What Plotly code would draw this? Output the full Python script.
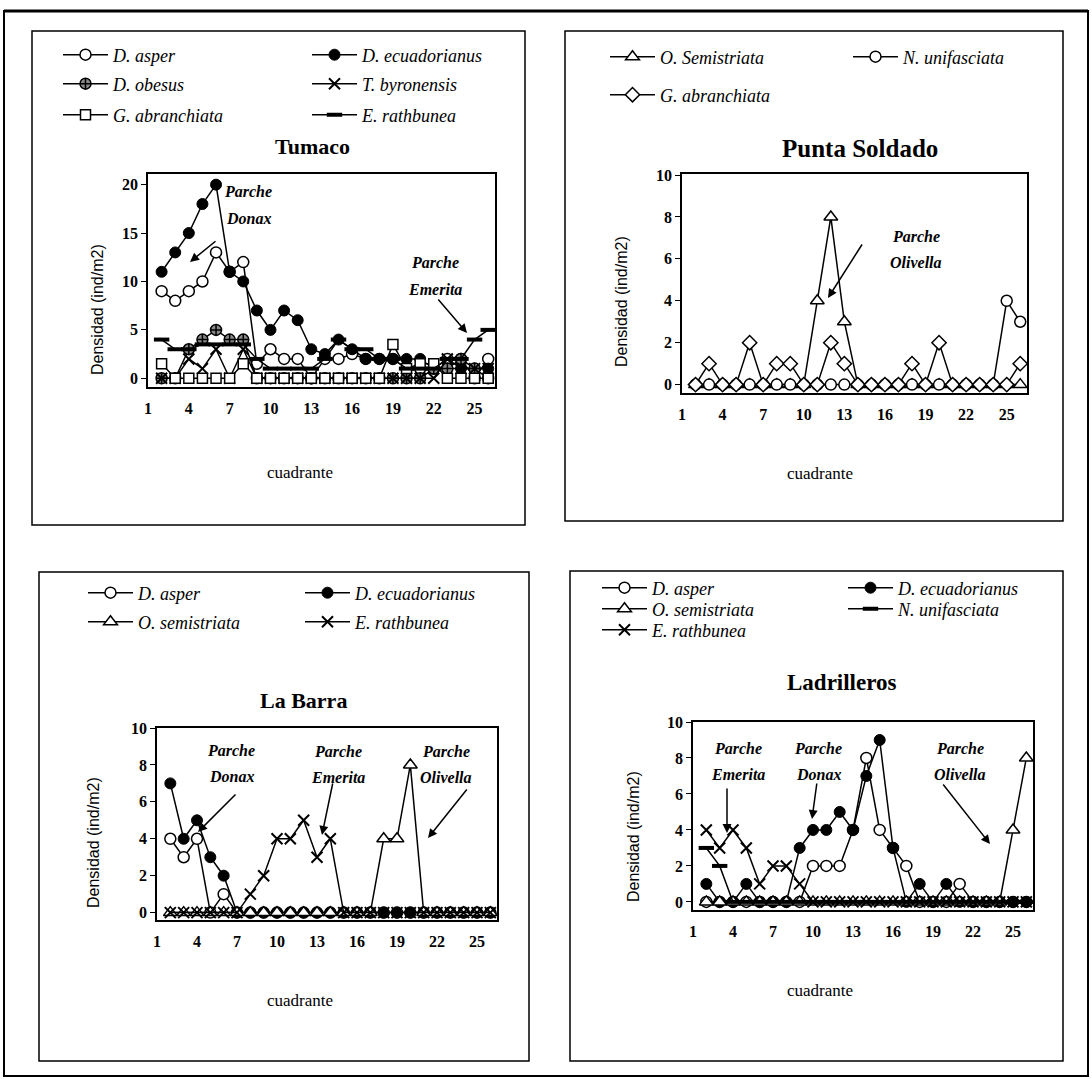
import plotly.graph_objects as go

W, H = 1092, 1079

# ---------------- data (cuadrante 2..26) ----------------
cuadrante = list(range(2, 27))
x_ticks = [1, 4, 7, 10, 13, 16, 19, 22, 25]

# Tumaco
tum_d_asper = [9, 8, 9, 10, 13, 11, 12, 1.5, 3, 2, 2, 0, 2, 2, 2.5, 2, 2, 2, 1, 1, 1, 2, 2, 0, 2]
tum_d_ecuad = [11, 13, 15, 18, 20, 11, 10, 7, 5, 7, 6, 3, 2.5, 4, 3, 2, 2, 2, 2, 2, 1, 1, 1, 1, 1]
tum_d_obesus = [0, 0, 3, 4, 5, 4, 4, 0, 0, 0, 0, 0, 0, 0, 0, 0, 0, 0, 0, 0, 1, 1, 2, 1, 0]
tum_t_byron = [0, 0, 2, 1, 3, 0, 3, 0, 0, 0, 0, 0, 0, 0, 0, 0, 0, 0, 0, 0, 0, 2, 1, 1, 1]
tum_g_abran = [1.5, 0, 0, 0, 0, 0, 1.5, 0, 0, 0, 0, 0, 0, 0, 0, 0, 0, 3.5, 1, 1.5, 1.5, 0, 0, 0, 0]
tum_e_rathb = [4, 3, 3, 3.5, 3.5, 3.5, 3.5, 2, 1, 1, 1, 1, 2, 4, 3, 3, 2, 2, 1, 1, 1, 2, 2, 4, 5]

# Punta Soldado
pso_o_semis = [0, 0, 0, 0, 0, 0, 0, 0, 0, 4, 8, 3, 0, 0, 0, 0, 0, 0, 0, 0, 0, 0, 0, 0, 0]
pso_n_unifa = [0, 0, 0, 0, 0, 0, 0, 0, 0, 0, 0, 0, 0, 0, 0, 0, 0, 0, 0, 0, 0, 0, 0, 4, 3]
pso_g_abran = [0, 1, 0, 0, 2, 0, 1, 1, 0, 0, 2, 1, 0, 0, 0, 0, 1, 0, 2, 0, 0, 0, 0, 0, 1]

# La Barra
lba_d_asper = [4, 3, 4, 0, 1, 0, 0, 0, 0, 0, 0, 0, 0, 0, 0, 0, 0, 0, 0, 0, 0, 0, 0, 0, 0]
lba_d_ecuad = [7, 4, 5, 3, 2, 0, 0, 0, 0, 0, 0, 0, 0, 0, 0, 0, 0, 0, 0, 0, 0, 0, 0, 0, 0]
lba_o_semis = [0, 0, 0, 0, 0, 0, 0, 0, 0, 0, 0, 0, 0, 0, 0, 0, 4, 4, 8, 0, 0, 0, 0, 0, 0]
lba_e_rathb = [0, 0, 0, 0, 0, 0, 1, 2, 4, 4, 5, 3, 4, 0, 0, 0, 0, 0, 0, 0, 0, 0, 0, 0, 0]

# Ladrilleros
lad_d_asper = [0, 0, 0, 0, 0, 0, 0, 0, 2, 2, 2, 4, 8, 4, 3, 2, 0, 0, 0, 1, 0, 0, 0, 0, 0]
lad_d_ecuad = [1, 0, 0, 1, 0, 0, 0, 3, 4, 4, 5, 4, 7, 9, 3, 0, 1, 0, 1, 0, 0, 0, 0, 0, 0]
lad_o_semis = [0, 0, 0, 0, 0, 0, 0, 0, 0, 0, 0, 0, 0, 0, 0, 0, 0, 0, 0, 0, 0, 0, 0, 4, 8]
lad_n_unifa = [3, 2, 0, 0, 0, 0, 0, 0, 0, 0, 0, 0, 0, 0, 0, 0, 0, 0, 0, 0, 0, 0, 0, 0, 0]
lad_e_rathb = [4, 3, 4, 3, 1, 2, 2, 1, 0, 0, 0, 0, 0, 0, 0, 0, 0, 0, 0, 0, 0, 0, 0, 0, 0]

# ---------------- styles ----------------
BLK = "black"
SERIF = "Liberation Serif"
SANS = "Liberation Sans"

M = {
    "ocirc": dict(symbol="circle", size=11, color="white", line=dict(color=BLK, width=1.5)),
    "fcirc": dict(symbol="circle", size=11, color=BLK, line=dict(color=BLK, width=1)),
    "obes": dict(symbol="circle-cross", size=11, color="#888888", line=dict(color=BLK, width=1.5)),
    "x": dict(symbol="x-thin-open", size=11, color=BLK, line=dict(color=BLK, width=2)),
    "osq": dict(symbol="square", size=10, color="white", line=dict(color=BLK, width=1.5)),
    "dash": dict(symbol="line-ew-open", size=11, color=BLK, line=dict(color=BLK, width=4)),
    "otri": dict(symbol="triangle-up", size=12, color="white", line=dict(color=BLK, width=1.5)),
    "odia": dict(symbol="diamond", size=11, color="white", line=dict(color=BLK, width=1.5)),
}

def px(x):
    return x / W

def py(y):
    return 1 - y / H

def note(text, x, y, font, **kw):
    d = dict(text=text, x=px(x), y=py(y), xref="paper", yref="paper", showarrow=False,
             xanchor="center", yanchor="middle", font=font)
    d.update(kw)
    return d

panels = [
    dict(key="", title="Tumaco", tsize=22, tpos=(312, 147),
         dx=(148, 495), dy=(174, 387), yr=(-0.9, 21.1), dtick=5,
         ytitle=(98, 310), xtitle=(300, 472),
         series=[
             ("D. asper", tum_d_asper, "ocirc", (63, 55)),
             ("D. ecuadorianus", tum_d_ecuad, "fcirc", (312, 55)),
             ("D. obesus", tum_d_obesus, "obes", (63, 84)),
             ("T. byronensis", tum_t_byron, "x", (312, 84)),
             ("G. abranchiata", tum_g_abran, "osq", (63, 115)),
             ("E. rathbunea", tum_e_rathb, "dash", (312, 115)),
         ]),
    dict(key="2", title="Punta Soldado", tsize=25, tpos=(860, 148),
         dx=(682, 1027), dy=(174, 393), yr=(-0.4, 10.05), dtick=2,
         ytitle=(622, 302), xtitle=(820, 473),
         series=[
             ("O. Semistriata", pso_o_semis, "otri", (610, 57)),
             ("N. unifasciata", pso_n_unifa, "ocirc", (853, 57)),
             ("G. abranchiata", pso_g_abran, "odia", (610, 95)),
         ]),
    dict(key="3", title="La Barra", tsize=22, tpos=(303, 700),
         dx=(157, 497), dy=(728, 920), yr=(-0.4, 10), dtick=2,
         ytitle=(93, 843), xtitle=(300, 1000),
         series=[
             ("D. asper", lba_d_asper, "ocirc", (88, 593)),
             ("D. ecuadorianus", lba_d_ecuad, "fcirc", (305, 593)),
             ("O. semistriata", lba_o_semis, "otri", (88, 622)),
             ("E. rathbunea", lba_e_rathb, "x", (305, 622)),
         ]),
    dict(key="4", title="Ladrilleros", tsize=23, tpos=(842, 682),
         dx=(693, 1033), dy=(722, 910), yr=(-0.45, 10), dtick=2,
         ytitle=(633, 837), xtitle=(820, 990),
         series=[
             ("D. asper", lad_d_asper, "ocirc", (602, 588)),
             ("D. ecuadorianus", lad_d_ecuad, "fcirc", (848, 588)),
             ("O. semistriata", lad_o_semis, "otri", (602, 609)),
             ("N. unifasciata", lad_n_unifa, "dash", (848, 609)),
             ("E. rathbunea", lad_e_rathb, "x", (602, 630)),
         ]),
]

fig = go.Figure()
layout = dict(width=W, height=H, margin=dict(l=0, r=0, t=0, b=0, autoexpand=False),
              paper_bgcolor="white", plot_bgcolor="white", showlegend=True)
annotations = []
shapes = []

tickfont = dict(family=SERIF, size=16, color=BLK, weight="bold")
leg_i = 0
for p in panels:
    k = p["key"]
    xa, ya = "x" + k, "y" + k
    layout["xaxis" + k] = dict(
        domain=[px(p["dx"][0]), px(p["dx"][1])], anchor=ya, range=[1, 26.5],
        tickvals=x_ticks, ticks="", ticklabelstandoff=6, showgrid=False, zeroline=False,
        showline=True, linecolor=BLK, linewidth=1.5, mirror=True, tickfont=tickfont)
    layout["yaxis" + k] = dict(
        domain=[py(p["dy"][1]), py(p["dy"][0])], anchor=xa, range=list(p["yr"]),
        dtick=p["dtick"], tick0=0, ticks="outside", ticklen=5, tickwidth=1, tickcolor=BLK,
        showgrid=False, zeroline=False, showline=True, linecolor=BLK, linewidth=1.5,
        mirror=True, tickfont=tickfont)
    for name, vals, mk, (lx, ly) in p["series"]:
        leg_i += 1
        lid = "legend" if leg_i == 1 else "legend%d" % leg_i
        fig.add_trace(go.Scatter(
            x=cuadrante, y=vals, mode="lines+markers", name="<i>%s</i>" % name,
            line=dict(color=BLK, width=1.5), marker=M[mk], xaxis=xa, yaxis=ya,
            legend=lid, cliponaxis=True))
        layout[lid] = dict(x=px(lx - 5), y=py(ly), xanchor="left", yanchor="middle",
                           bgcolor="rgba(0,0,0,0)", borderwidth=0, itemwidth=45,
                           font=dict(family=SERIF, size=18, color=BLK))
    annotations.append(note("<b>%s</b>" % p["title"], p["tpos"][0], p["tpos"][1],
                            dict(family=SERIF, size=p["tsize"], color=BLK)))
    annotations.append(note("Densidad (ind/m2)", p["ytitle"][0], p["ytitle"][1],
                            dict(family=SANS, size=16, color=BLK), textangle=-90))
    annotations.append(note("cuadrante", p["xtitle"][0], p["xtitle"][1],
                            dict(family=SERIF, size=17, color=BLK)))

# "Parche" labels: (second word, text center px, tail px, head px)
parches = [
    ("Donax", (248, 192), (217, 240), (190, 262)),
    ("Emerita", (435, 263), (437, 298), (467, 333)),
    ("Olivella", (916, 237), (863, 243), (828, 298)),
    ("Donax", (231, 750), (237, 793), (198, 832)),
    ("Emerita", (338, 751), (333, 782), (322, 835)),
    ("Olivella", (446, 751), (468, 788), (428, 838)),
    ("Emerita", (738, 748), (727, 787), (727, 833)),
    ("Donax", (818, 748), (817, 782), (812, 819)),
    ("Olivella", (960, 748), (942, 783), (990, 844)),
]
pfont = dict(family=SERIF, size=16, color=BLK)
for word, (tx, ty), (ax_, ay_), (hx, hy) in parches:
    annotations.append(note("<b><i>Parche</i></b>", tx, ty, pfont))
    annotations.append(note("<b><i>%s</i></b>" % word, tx, ty + 26, pfont))
    annotations.append(dict(text="", x=px(hx), y=py(hy), xref="paper", yref="paper",
                            showarrow=True, ax=ax_ - hx, ay=ay_ - hy, axref="pixel", ayref="pixel",
                            arrowhead=2, arrowsize=1.2, arrowwidth=1.5, arrowcolor=BLK))

# panel boxes and outer frame
boxes = [(32, 31, 525, 525), (565, 31, 1063, 521), (39, 572, 529, 1061), (570, 571, 1063, 1061)]
for x0, y0, x1, y1 in boxes:
    shapes.append(dict(type="rect", xref="paper", yref="paper", x0=px(x0), x1=px(x1),
                       y0=py(y1), y1=py(y0), line=dict(color=BLK, width=1.5)))
shapes.append(dict(type="rect", xref="paper", yref="paper", x0=px(4), x1=px(1088),
                   y0=py(1076), y1=py(11), line=dict(color=BLK, width=2)))
shapes.append(dict(type="line", xref="paper", yref="paper", x0=px(4), x1=px(1088),
                   y0=py(11), y1=py(11), line=dict(color=BLK, width=3)))

layout["annotations"] = annotations
layout["shapes"] = shapes
fig.update_layout(**layout)
fig.write_html("out.html", config={"displayModeBar": False},
               post_script="document.body.style.margin='0px';document.body.style.overflow='hidden';")
